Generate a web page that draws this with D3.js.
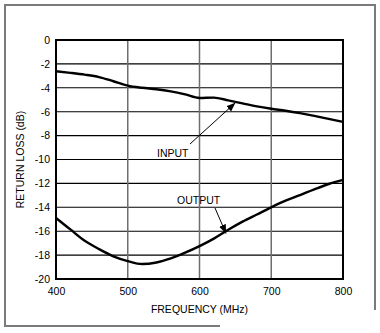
<!DOCTYPE html>
<html><head><meta charset="utf-8">
<script src="https://cdn.jsdelivr.net/npm/d3@7"></script>
<style>body{margin:0;background:#fff}svg{display:block}</style>
</head><body>
<script>
const freqs = [400,420,440,460,480,500,520,540,560,580,600,620,640,660,680,700,720,740,760,780,800];
const inputLoss = [-2.62,-2.75,-2.9,-3.1,-3.45,-3.82,-4.0,-4.12,-4.3,-4.55,-4.85,-4.82,-5.05,-5.3,-5.55,-5.75,-5.92,-6.12,-6.35,-6.6,-6.85];
const outputLoss = [-14.9,-15.85,-16.8,-17.5,-18.1,-18.5,-18.75,-18.62,-18.28,-17.8,-17.25,-16.62,-15.88,-15.2,-14.6,-14.0,-13.45,-12.98,-12.5,-12.05,-11.7];
const xTicks = [400,500,600,700,800];
const yTicks = [0,-2,-4,-6,-8,-10,-12,-14,-16,-18,-20];
const labels = ["INPUT","OUTPUT"];

const W=380,H=333;
const m={l:56,r:343,t:40,b:279};
const svg=d3.select("body").append("svg").attr("width",W).attr("height",H);
const font="'Liberation Sans', Arial, sans-serif";

// outer frame (with gap where the watermark sits)
svg.append("path").attr("d","M220,326 L5,326 L5,5 L375,5 L375,310")
  .attr("fill","none").attr("stroke","#7a7a7a").attr("stroke-width",2);

const x=d3.scaleLinear().domain([400,800]).range([m.l,m.r]);
const y=d3.scaleLinear().domain([0,-20]).range([m.t,m.b]);

// gridlines
svg.append("g").selectAll("line").data(yTicks).join("line")
  .attr("x1",m.l).attr("x2",m.r).attr("y1",d=>y(d)).attr("y2",d=>y(d))
  .attr("stroke","#000").attr("stroke-width",1.1);
svg.append("g").selectAll("line").data(xTicks).join("line")
  .attr("x1",d=>x(d)).attr("x2",d=>x(d)).attr("y1",m.t).attr("y2",m.b)
  .attr("stroke","#6e6e6e").attr("stroke-width",1.5);
svg.append("rect").attr("x",m.l).attr("y",m.t).attr("width",m.r-m.l).attr("height",m.b-m.t)
  .attr("fill","none").attr("stroke","#000").attr("stroke-width",2);

// axes labels via d3 axes
const yAxis=svg.append("g").attr("transform",`translate(${m.l},0)`)
  .call(d3.axisLeft(y).tickValues(yTicks).tickSize(0).tickPadding(6).tickFormat(d=>d===0?"0":"-"+Math.abs(d)));
yAxis.select(".domain").remove();
yAxis.selectAll("text").attr("font-family",font).attr("font-size",10.5).attr("fill","#000");
const xAxis=svg.append("g").attr("transform",`translate(0,${m.b})`)
  .call(d3.axisBottom(x).tickValues(xTicks).tickSize(0).tickPadding(9).tickFormat(d3.format("d")));
xAxis.select(".domain").remove();
xAxis.selectAll("text").attr("font-family",font).attr("font-size",10.5).attr("fill","#000");

svg.append("text").attr("x",(m.l+m.r)/2).attr("y",313).attr("text-anchor","middle")
  .attr("font-family",font).attr("font-size",10.5).text("FREQUENCY (MHz)");
svg.append("text").attr("transform",`translate(24,${(m.t+m.b)/2}) rotate(-90)`).attr("text-anchor","middle")
  .attr("font-family",font).attr("font-size",10.5).text("RETURN LOSS (dB)");

// curves
const line=d3.line().x((d,i)=>x(freqs[i])).y(d=>y(d)).curve(d3.curveMonotoneX);
[inputLoss,outputLoss].forEach(s=>{
  svg.append("path").attr("d",line(s)).attr("fill","none").attr("stroke","#000").attr("stroke-width",2.4);
});

// arrows
svg.append("defs").append("marker").attr("id","ah").attr("viewBox","0 0 10 10")
  .attr("refX",10).attr("refY",5).attr("markerWidth",9).attr("markerHeight",9)
  .attr("markerUnits","userSpaceOnUse").attr("orient","auto")
  .append("path").attr("d","M0,1 L10,5 L0,9 Z").attr("fill","#000");
const ann=[
  {label:labels[0], tx:157, ty:157, x1:190, y1:144, fx:650, fy:-5.25},
  {label:labels[1], tx:177, ty:204, x1:215, y1:208, fx:637, fy:-16.2}
];
ann.forEach(a=>{
  svg.append("line").attr("x1",a.x1).attr("y1",a.y1).attr("x2",x(a.fx)).attr("y2",y(a.fy))
    .attr("stroke","#000").attr("stroke-width",1).attr("marker-end","url(#ah)");
  svg.append("text").attr("x",a.tx).attr("y",a.ty).attr("font-family",font).attr("font-size",10.5).text(a.label);
});
</script>
</body></html>
